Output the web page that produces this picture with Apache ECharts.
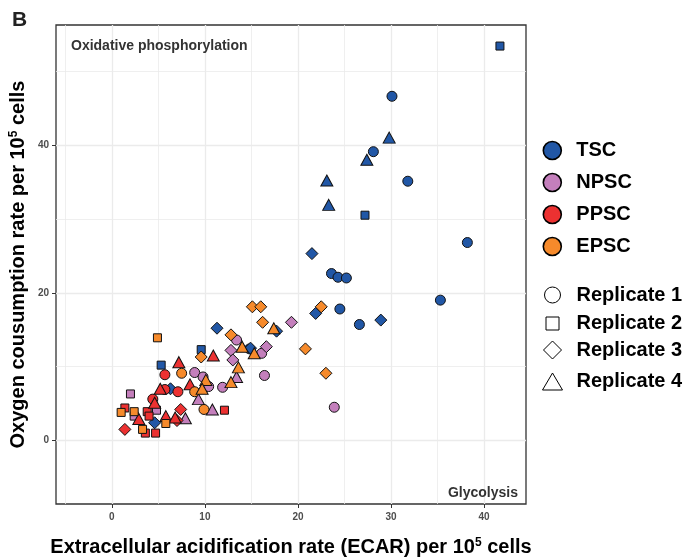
<!DOCTYPE html>
<html lang="en">
<head>
    <meta charset="UTF-8">
    <title>OCR vs ECAR</title>
    <style>
        html, body { margin: 0; padding: 0; background: #fff; }
        #chart { width: 694px; height: 560px; }
    </style>
</head>
<body>
    <div id="chart"></div>
    <script src="https://cdn.jsdelivr.net/npm/echarts@6/dist/echarts.min.js"></script>
    <script type="text/javascript">
        // cell types and replicates
        var cellTypes = ['TSC', 'NPSC', 'PPSC', 'EPSC'];
        var cellColors = ['#2157a6', '#c47fbc', '#ec3131', '#f68a2b'];
        var replicates = ['Replicate 1', 'Replicate 2', 'Replicate 3', 'Replicate 4'];
        var repSymbols = ['circle', 'rect', 'diamond', 'triangle'];

        // [ECAR, OCR] per 10^5 cells
        var tscR1 = [[30.1, 46.6], [28.1, 39.1], [31.8, 35.1], [38.2, 26.8], [23.6, 22.6], [24.3, 22.1], [25.2, 22.0], [35.3, 19.0], [24.5, 17.8], [26.6, 15.7], [14.8, 12.4]];
        var tscR2 = [[41.7, 53.4], [27.2, 30.5], [9.6, 12.3], [5.3, 10.2]];
        var tscR3 = [[21.5, 25.3], [21.9, 17.2], [28.9, 16.3], [17.7, 14.8], [11.3, 15.2], [14.9, 12.5], [6.3, 7.0], [4.6, 2.4]];
        var tscR4 = [[29.8, 41.0], [27.4, 38.0], [23.1, 35.2], [23.3, 31.9]];

        var npscR1 = [[13.4, 13.6], [16.1, 11.8], [11.9, 7.2], [16.4, 8.8], [8.9, 9.2], [9.8, 8.6], [10.4, 7.3], [23.9, 4.5]];
        var npscR2 = [[2.0, 6.3], [4.8, 4.1], [2.4, 3.3]];
        var npscR3 = [[19.3, 16.0], [16.6, 12.7], [12.8, 12.2], [13.0, 10.9]];
        var npscR4 = [[13.4, 8.6], [9.3, 5.6], [10.8, 4.2], [7.9, 3.0]];

        var ppscR1 = [[5.7, 8.9], [5.7, 6.9], [7.1, 6.6], [4.4, 5.6]];
        var ppscR2 = [[12.1, 4.1], [1.4, 4.4], [3.8, 3.9], [4.0, 3.3], [3.6, 1.0], [4.7, 1.0]];
        var ppscR3 = [[7.4, 4.2], [1.4, 1.5], [7.0, 2.7]];
        var ppscR4 = [[10.9, 11.5], [7.2, 10.6], [8.4, 7.6], [5.2, 7.0], [5.8, 3.3], [2.9, 2.9], [6.8, 3.1], [4.6, 5.1]];

        var epscR1 = [[7.5, 9.1], [8.9, 6.6], [9.9, 4.2]];
        var epscR2 = [[4.9, 13.9], [1.0, 3.8], [2.4, 3.9], [5.8, 2.3], [3.3, 1.5]];
        var epscR3 = [[15.1, 18.1], [16.0, 18.1], [16.2, 16.0], [22.5, 18.1], [12.8, 14.3], [9.6, 11.3], [20.8, 12.4], [23.0, 9.1]];
        var epscR4 = [[17.4, 15.2], [14.0, 12.7], [15.3, 11.8], [13.6, 9.9], [12.8, 7.9], [10.1, 8.2], [9.7, 7.0]];

        var groupData = [
            [tscR1, tscR2, tscR3, tscR4],
            [npscR1, npscR2, npscR3, npscR4],
            [ppscR1, ppscR2, ppscR3, ppscR4],
            [epscR1, epscR2, epscR3, epscR4]
        ];

        // axes
        var xTicks = [0, 10, 20, 30, 40];
        var yTicks = [0, 20, 40];
        var xGridMajor = [0, 10, 20, 30, 40];
        var xGridMinor = [-5, 5, 15, 25, 35];
        var yGridMajor = [0, 20, 40];
        var yGridMinor = [10, 30, 50];

        var FONT = 'Liberation Sans, Arial, Helvetica, sans-serif';
        var symbolSizes = [10, 8, 12, [12, 11]];
        // legend icon sizes for the replicate keys
        var repIconSize = [[16, 16], [13, 13], [18, 18], [20, 17]];
        var repRowY = [293, 320, 349, 380];

        function DrawEChart() {
            var myChart = echarts.init(document.getElementById('chart'), null, {renderer: 'canvas'});

            var gridLines = [];
            xGridMajor.forEach(function (v) { gridLines.push({xAxis: v, lineStyle: {width: 1.3}}); });
            xGridMinor.forEach(function (v) { gridLines.push({xAxis: v, lineStyle: {width: 0.8}}); });
            yGridMajor.forEach(function (v) { gridLines.push({yAxis: v, lineStyle: {width: 1.3}}); });
            yGridMinor.forEach(function (v) { gridLines.push({yAxis: v, lineStyle: {width: 0.8}}); });

            var series = [{
                name: 'grid',
                type: 'scatter',
                data: [],
                z: 0,
                silent: true,
                markLine: {
                    silent: true,
                    z: 0,
                    symbol: 'none',
                    animation: false,
                    label: {show: false},
                    lineStyle: {color: '#ebebeb', type: 'solid'},
                    data: gridLines
                }
            }];

            // data points
            for (var g = 0; g < cellTypes.length; g++) {
                for (var r = 0; r < replicates.length; r++) {
                    series.push({
                        name: cellTypes[g] + ' ' + replicates[r],
                        type: 'scatter',
                        z: 3,
                        symbol: repSymbols[r],
                        symbolSize: symbolSizes[r],
                        itemStyle: {color: cellColors[g], borderColor: '#111', borderWidth: 1, opacity: 1},
                        data: groupData[g][r]
                    });
                }
            }

            // empty series only used as legend keys
            cellTypes.forEach(function (name, i) {
                series.push({name: name, type: 'scatter', data: [], symbol: 'circle',
                    itemStyle: {color: cellColors[i], borderColor: '#000', borderWidth: 1.6, opacity: 1}});
            });
            replicates.forEach(function (name, i) {
                series.push({name: name, type: 'scatter', data: [], symbol: repSymbols[i],
                    itemStyle: {color: '#fff', borderColor: '#000', borderWidth: 1, opacity: 1}});
            });

            var legendText = {fontSize: 20, fontWeight: 'bold', color: '#000', fontFamily: FONT};
            var legends = [{
                data: cellTypes.map(function (name, i) {
                    return {name: name, icon: 'circle',
                        itemStyle: {color: cellColors[i], borderColor: '#000', borderWidth: 1.6, opacity: 1}};
                }),
                orient: 'vertical',
                left: 542.5,
                top: 140.5,
                padding: 0,
                itemWidth: 18,
                itemHeight: 18,
                itemGap: 12,
                selectedMode: false,
                textStyle: Object.assign({padding: [0, 0, 0, 10]}, legendText)
            }];
            replicates.forEach(function (name, i) {
                var w = repIconSize[i][0], h = repIconSize[i][1];
                legends.push({
                    data: [{name: name, icon: repSymbols[i],
                        itemStyle: {color: '#fff', borderColor: '#000', borderWidth: 1, opacity: 1}}],
                    orient: 'vertical',
                    left: 552 - w / 2,
                    top: repRowY[i] - h / 2,
                    padding: 0,
                    itemWidth: w,
                    itemHeight: h,
                    selectedMode: false,
                    textStyle: Object.assign({padding: [0, 0, 0, 19 - w / 2]}, legendText)
                });
            });

            var titleRich = {
                t: {fontSize: 20, fontWeight: 'bold', color: '#000', fontFamily: FONT},
                s: {fontSize: 12, fontWeight: 'bold', color: '#000', fontFamily: FONT, verticalAlign: 'top', padding: [0, 0, 9, 0]}
            };

            myChart.setOption({
                animation: false,
                grid: {
                    left: 56,
                    top: 25,
                    right: 168,
                    bottom: 56,
                    outerBoundsMode: 'none',
                    containLabel: false,
                    show: true,
                    borderColor: '#333',
                    borderWidth: 1.3,
                    backgroundColor: 'transparent'
                },
                xAxis: {
                    type: 'value',
                    min: -6,
                    max: 44.5,
                    position: 'bottom',
                    splitLine: {show: false},
                    axisLine: {show: false, onZero: false},
                    axisTick: {show: true, inside: false, customValues: xTicks, length: 4, lineStyle: {color: '#333', width: 1}},
                    axisLabel: {customValues: xTicks, fontSize: 10, fontWeight: 'bold', color: '#4d4d4d', margin: 8, fontFamily: FONT},
                    name: '{t|Extracellular acidification rate (ECAR) per 10}{s|5}{t| cells}',
                    nameLocation: 'middle',
                    nameGap: 33,
                    nameMoveOverlap: false,
                    nameTextStyle: {rich: titleRich}
                },
                yAxis: {
                    type: 'value',
                    min: -8.6,
                    max: 56.25,
                    position: 'left',
                    splitLine: {show: false},
                    axisLine: {show: false, onZero: false},
                    axisTick: {show: true, inside: false, customValues: yTicks, length: 4, lineStyle: {color: '#333', width: 1}},
                    axisLabel: {customValues: yTicks, fontSize: 10, fontWeight: 'bold', color: '#4d4d4d', margin: 7, fontFamily: FONT},
                    name: '{t|Oxygen cousumption rate per 10}{s|5}{t| cells}',
                    nameLocation: 'middle',
                    nameGap: 27,
                    nameMoveOverlap: false,
                    nameTextStyle: {rich: titleRich}
                },
                legend: legends,
                graphic: [
                    {type: 'text', x: 12, y: 20, style: {text: 'B', fontSize: 21, fontWeight: 'bold', fill: '#222', fontFamily: FONT, verticalAlign: 'middle'}},
                    {type: 'text', x: 71, y: 46, z: 10, style: {text: 'Oxidative phosphorylation', fontSize: 14, fontWeight: 'bold', fill: '#333', fontFamily: FONT, verticalAlign: 'middle'}},
                    {type: 'text', x: 518, y: 493, z: 10, style: {text: 'Glycolysis', fontSize: 14, fontWeight: 'bold', fill: '#333', fontFamily: FONT, align: 'right', verticalAlign: 'middle'}}
                ],
                series: series
            });
        }
        DrawEChart();
    </script>
</body>
</html>
